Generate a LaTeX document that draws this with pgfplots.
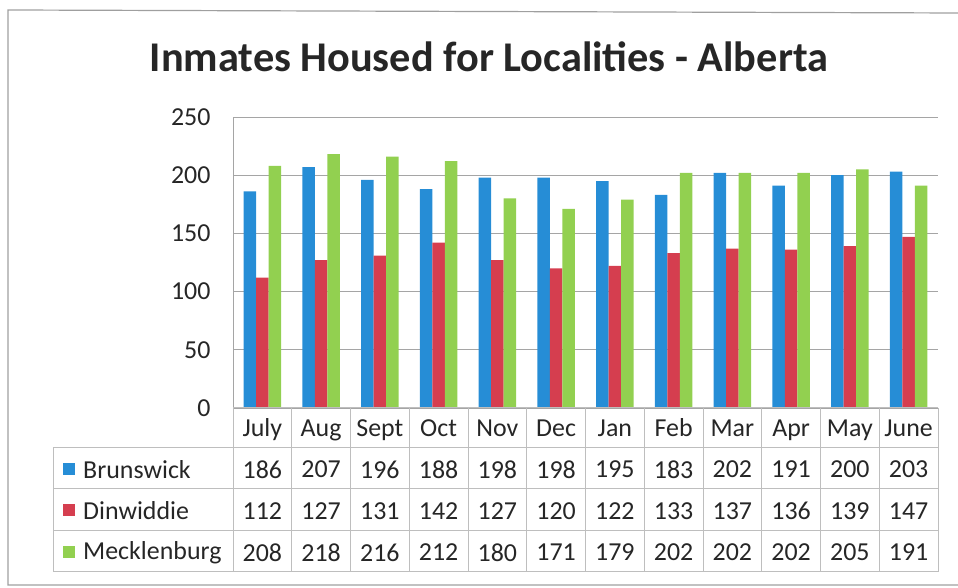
\documentclass[border=0pt]{standalone}
\usepackage{pgfplots}
\usepackage{pgfplotstable}
\pgfplotsset{compat=1.18}
\usepackage{fontspec}
\setmainfont{Carlito}
\definecolor{cBlue}{RGB}{38,141,214}
\definecolor{cRed}{RGB}{213,62,79}
\definecolor{cGreen}{RGB}{146,208,80}
\definecolor{gridc}{RGB}{165,165,165}
\definecolor{tabc}{RGB}{190,190,190}
\pgfplotstableread{
idx B D M
0 186 112 208
1 207 127 218
2 196 131 216
3 188 142 212
4 198 127 180
5 198 120 171
6 195 122 179
7 183 133 202
8 202 137 202
9 191 136 202
10 200 139 205
11 203 147 191
}\datatable
\begin{document}
\begin{tikzpicture}[x=1bp,y=1bp]
\path[use as bounding box] (0,0) rectangle (958,588);
\draw[gray!75, line width=1.2bp] (958,575) -- (8,578) -- (8,3) -- (958,3);
\node[font=\fontsize{42.5}{48}\selectfont\bfseries, text=black!85] at (489,531) {Inmates Housed for Localities - Alberta};
\begin{axis}[at={(233bp,180bp)}, anchor=south west, scale only axis,
  width=705bp, height=291bp,
  xmin=-0.5, xmax=11.5, ymin=0, ymax=250,
  ytick={0,50,100,150,200,250}, xtick=\empty,
  axis x line=none, axis y line*=left,
  axis line style={gridc, line width=0.8bp},
  ytick style={draw=none},
  ymajorgrids, grid style={gridc, line width=0.8bp},
  /pgf/number format/assume math mode=true,
  yticklabel style={font=\fontsize{26}{30}\selectfont, text=black!85, xshift=-19bp},
  clip=false]
\addplot[ybar, bar width=12.5bp, bar shift=-12.5bp, fill=cBlue, draw=none] table[x=idx, y=B] {\datatable};
\addplot[ybar, bar width=12.5bp, bar shift=0bp, fill=cRed, draw=none] table[x=idx, y=D] {\datatable};
\addplot[ybar, bar width=12.5bp, bar shift=12.5bp, fill=cGreen, draw=none] table[x=idx, y=M] {\datatable};
\end{axis}
% table grid
\begin{scope}[tabc, line width=1bp]
\draw (233,180) -- (938,180);
\foreach \yy in {140,99,57,16} \draw (53,\yy) -- (938,\yy);
\draw (53,140) -- (53,16);
\foreach \k in {0,...,12} \draw ({233+58.75*\k},180) -- ({233+58.75*\k},16);
\end{scope}
\begin{scope}[every node/.style={font=\fontsize{26}{30}\selectfont, text=black!85, inner sep=0pt}]
\foreach \m [count=\i from 0] in {July,Aug,Sept,Oct,Nov,Dec,Jan,Feb,Mar,Apr,May,June}
  \node[text height=0.68em, text depth=0.2em] at ({233+58.75*(\i+0.5)},154) {\m};
\foreach \i in {0,...,11}{
  \pgfplotstablegetelem{\i}{B}\of\datatable
  \node at ({233+58.75*(\i+0.5)},118.5) {\pgfplotsretval};
  \pgfplotstablegetelem{\i}{D}\of\datatable
  \node at ({233+58.75*(\i+0.5)},77) {\pgfplotsretval};
  \pgfplotstablegetelem{\i}{M}\of\datatable
  \node at ({233+58.75*(\i+0.5)},35.5) {\pgfplotsretval};
}
\fill[cBlue] (63,113) rectangle (75,125);
\fill[cRed] (63,71.5) rectangle (75,83.5);
\fill[cGreen] (63,30) rectangle (75,42);
\node[anchor=west] at (83,118.5) {Brunswick};
\node[anchor=west] at (83,77) {Dinwiddie};
\node[anchor=west] at (83,35.5) {Mecklenburg};
\end{scope}
\end{tikzpicture}
\end{document}
